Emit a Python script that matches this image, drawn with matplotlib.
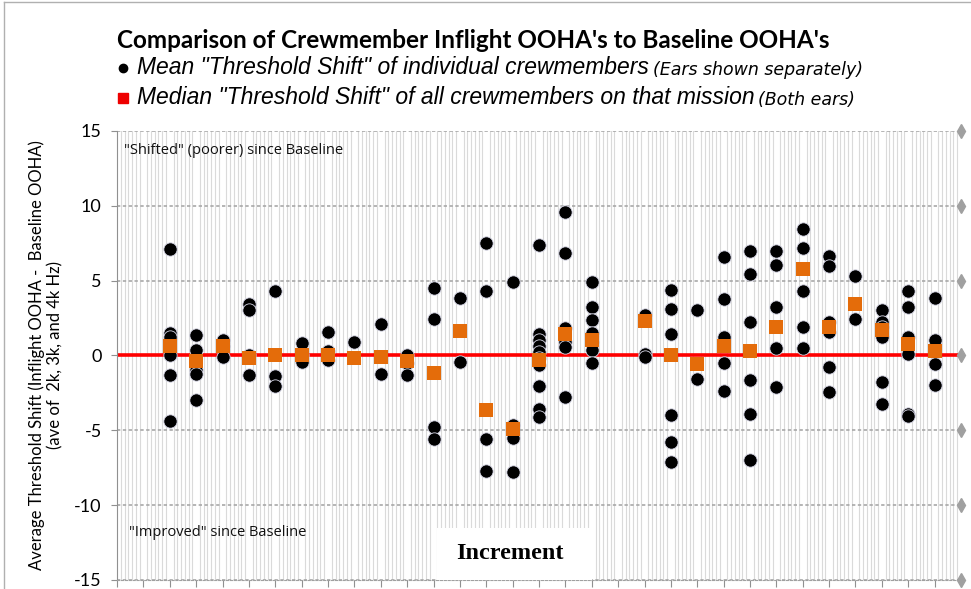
import matplotlib
matplotlib.use("Agg")
import matplotlib.pyplot as plt
from matplotlib.lines import Line2D
from matplotlib.patches import Rectangle

# mission slots (x index) and mean threshold shift per crewmember ear
slots = [2, 3, 4, 5, 6, 7, 8, 9, 10, 11, 12, 13, 14, 15, 16, 17, 18,
         20, 21, 22, 23, 24, 25, 26, 27, 28, 29, 30, 31]
means = [
    [7.1, 1.5, 1.2, 0.0, -1.3, -4.35],
    [1.35, 0.35, -1.0, -1.25, -3.0],
    [1.0, 0.6, -0.1],
    [3.45, 3.05, 0.0, -1.3],
    [4.3, -1.35, -2.05],
    [0.8, 0.0, -0.45],
    [1.55, 0.3, -0.3],
    [0.87],
    [2.1, -1.27],
    [0.05, -0.5, -1.3],
    [4.5, 2.4, -4.8, -5.6],
    [3.8, -0.45],
    [7.5, 4.3, -5.6, -7.7],
    [4.9, -4.65, -5.55, -7.8],
    [7.4, 1.45, 1.05, 0.65, 0.25, -0.2, -0.65, -2.05, -3.55, -4.1],
    [9.55, 6.85, 1.8, 0.9, 0.55, -2.75],
    [4.9, 3.25, 2.35, 1.5, 0.9, 0.35, -0.5],
    [2.7, 0.1, -0.1],
    [4.35, 3.1, 1.4, -4.0, -5.8, -7.1],
    [3.05, -1.55],
    [6.55, 3.75, 1.2, -0.5, -2.35],
    [7.0, 5.45, 2.2, -1.65, -3.9, -7.0],
    [6.95, 6.05, 3.25, 0.5, -2.1],
    [8.45, 7.2, 4.3, 1.9, 0.5],
    [6.65, 5.95, 2.2, 1.55, -0.8, -2.45],
    [5.3, 2.45],
    [3.0, 2.2, 1.9, 1.25, -1.8, -3.25],
    [4.3, 3.2, 1.25, 0.1, -3.9, -4.05],
    [3.8, 1.0, -0.55, -2.0],
]
# median threshold shift of all crewmembers per mission
medians = [0.6, -0.4, 0.65, -0.2, 0.0, 0.0, 0.05, -0.18, -0.1, -0.4,
           -1.2, 1.65, -3.65, -4.9, -0.3, 1.45, 1.0,
           2.3, 0.05, -0.6, 0.65, 0.3, 1.9, 5.8, 1.9, 3.4, 1.7, 0.75, 0.3]
yticks = [-15, -10, -5, 0, 5, 10, 15]

fig = plt.figure(figsize=(9.71, 5.89), dpi=100)
ax = fig.add_axes([0.1205, 0.0153, 0.8692, 0.7627])

ax.set_xlim(0, 32)
ax.set_ylim(-15, 15)
ax.set_xticks(range(0, 33))
ax.set_xticks([i / 7 for i in range(0, 225)], minor=True)
ax.set_xticklabels([])
ax.set_yticks(yticks)
ax.set_yticklabels([str(v) for v in yticks], fontsize=13, family="Lato")
ax.tick_params(axis="x", which="major", length=5, color="#909090", direction="out")
ax.tick_params(axis="x", which="minor", length=0)
ax.tick_params(axis="y", length=4, color="#909090", pad=7)

ax.grid(axis="x", which="minor", color="#dadada", linewidth=0.8)
ax.grid(axis="y", which="major", color="#a8a8a8", linewidth=1.2, linestyle=(0, (2, 1.5)))
ax.set_axisbelow(True)
for s in ["top", "right"]:
    ax.spines[s].set_visible(False)
ax.spines["left"].set_color("#909090")
ax.spines["bottom"].set_color("#a0a0a0")
ax.spines["bottom"].set_linestyle((0, (2, 1.5)))

# grey diamond end markers on the right of each horizontal gridline
ax.plot([32] * len(yticks), yticks, linestyle="none", marker="d", markersize=7,
        color="#a0a0a0", clip_on=False, zorder=3)

ax.axhline(0, color="#ff0000", linewidth=2.6, zorder=2)

xs, ys = [], []
for x, vals in zip(slots, means):
    for v in vals:
        xs.append(x)
        ys.append(v)
ax.scatter(xs, ys, s=92, color="black", edgecolors="#d8d8e8", linewidths=0.6, zorder=4)
ax.scatter(slots, medians, s=95, marker="s", color="#e46c0a", linewidths=0, zorder=5)

ax.set_ylabel("Average Threshold Shift (Inflight OOHA -  Baseline OOHA)\n(ave of  2k, 3k, and 4k Hz)",
              fontsize=12, family="Lato", labelpad=8, linespacing=1.15)

ax.text(0.008, 0.955, '"Shifted" (poorer) since Baseline', transform=ax.transAxes,
        fontsize=10.5, family="Open Sans", va="center", color="#111111")
ax.text(0.014, 0.105, '"Improved" since Baseline', transform=ax.transAxes,
        fontsize=10.5, family="Open Sans", va="center", color="#111111")

ax.add_patch(Rectangle((0.379, 0.0), 0.184, 0.116, transform=ax.transAxes,
                       facecolor="white", edgecolor="none", zorder=6))
ax.text(0.466, 0.06, "Increment", transform=ax.transAxes, fontsize=17.5,
        family="Liberation Serif", weight="bold", ha="center", va="center", zorder=7)

# title and text legend
fig.text(0.1205, 0.932, "Comparison of Crewmember Inflight OOHA's to Baseline OOHA's",
         fontsize=17.5, family="Lato", weight="bold", va="center")

fig.canvas.draw()
renderer = fig.canvas.get_renderer()

def legend_line(y, marker, mcolor, msize, main, small):
    fig.add_artist(Line2D([0.1265], [y], marker=marker, color=mcolor, markersize=msize,
                          linestyle="none"))
    t1 = fig.text(0.141, y, main, fontsize=16.5, family="Liberation Sans", style="italic",
                  va="center")
    bb = t1.get_window_extent(renderer)
    fig.text(bb.x1 / fig.bbox.width + 0.004, y - 0.003, small, fontsize=12.5,
             family=["Liberation Sans Narrow", "DejaVu Sans"], style="italic", va="center")

legend_line(0.885, "o", "black", 6, 'Mean "Threshold Shift" of individual crewmembers',
            "(Ears shown separately)")
legend_line(0.834, "s", "#ee0000", 7.5, 'Median "Threshold Shift" of all crewmembers on that mission',
            "(Both ears)")

# thin frame at top and left of picture
fig.add_artist(Line2D([0.004, 0.004], [0.0, 0.997], color="#b0b0b0", linewidth=1))
fig.add_artist(Line2D([0.004, 1.0], [0.997, 0.997], color="#b0b0b0", linewidth=1))

fig.savefig("out.png", dpi=100)
